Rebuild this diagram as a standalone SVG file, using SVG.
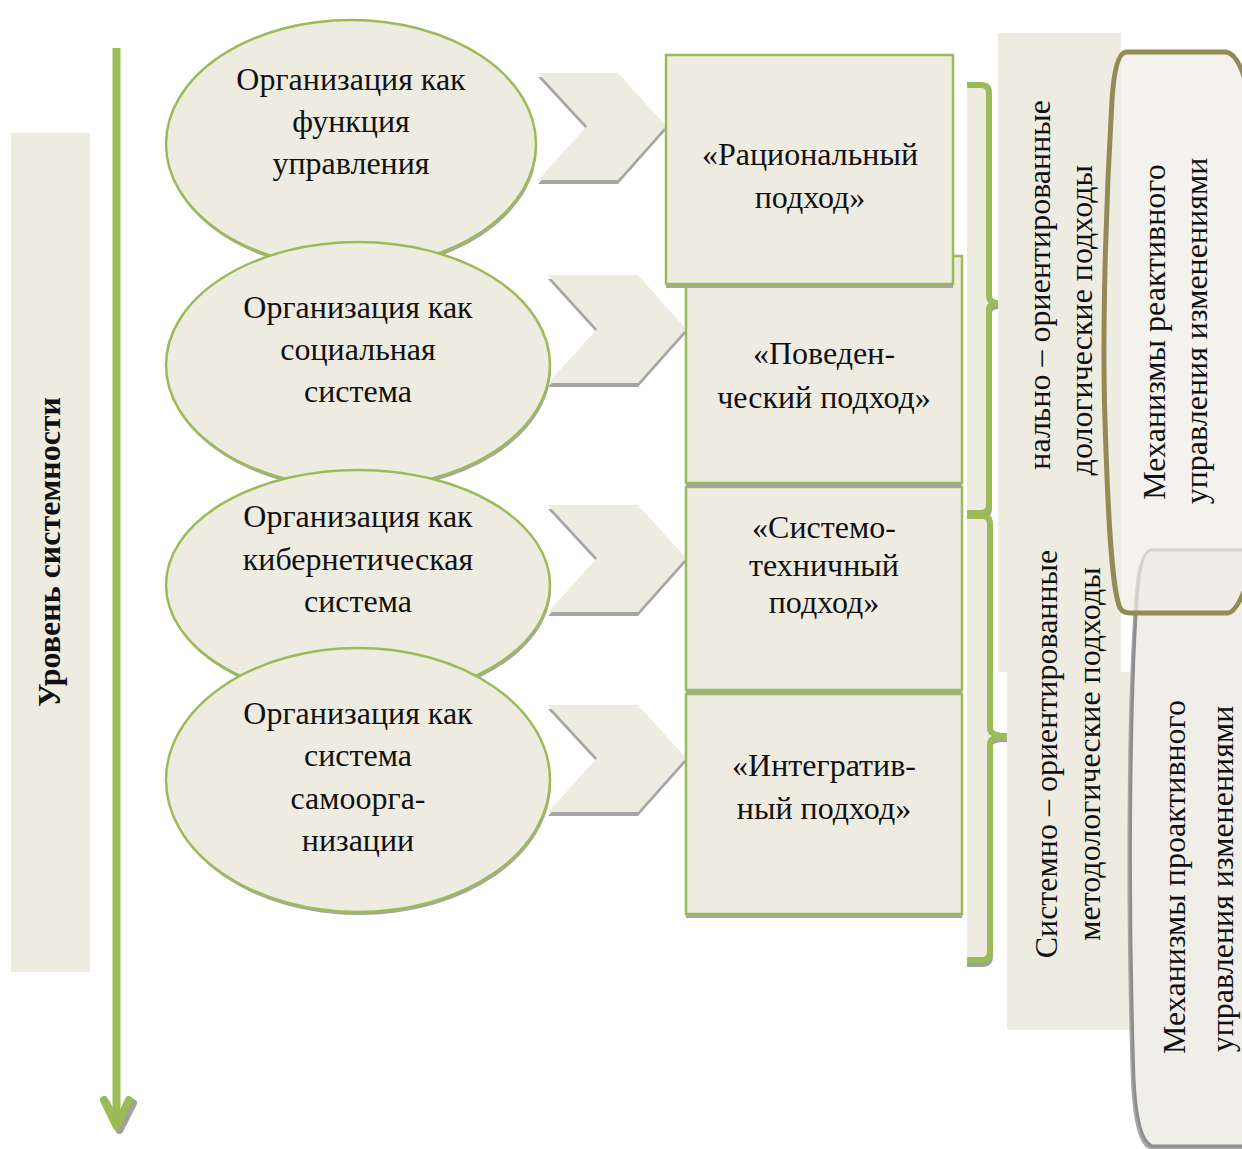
<svg xmlns="http://www.w3.org/2000/svg" width="1242" height="1149" viewBox="0 0 1242 1149">
  <style>
    .t { font-family: "Liberation Serif", "Times New Roman", serif; font-size: 32px; fill: #111; text-anchor: middle; }
    .tb { font-family: "Liberation Serif", "Times New Roman", serif; font-size: 32px; font-weight: bold; fill: #111; text-anchor: middle; }
    .pane { fill: #EEECE1; stroke: #9BBB59; stroke-width: 2.5; }
    .sh { fill: #A5A5A5; }
    .chev { fill: #EEECE1; }
    .brace { fill: none; stroke: #9BBB59; stroke-width: 6; stroke-linejoin: round; }
    .braceSh { fill: none; stroke: #A0A0A0; stroke-width: 6; }
  </style>

  <!-- level-of-systemness strip -->
  <g id="level">
    <rect x="11" y="133" width="79" height="839" fill="#EEECE1"/>
    <text class="tb" transform="translate(60,552) rotate(-90)">Уровень системности</text>
  </g>

  <!-- downward axis arrow -->
  <g id="axis">
    <polyline points="106,1103 119.5,1130 133,1103" fill="none" stroke="#A0A0A0" stroke-width="8" stroke-linecap="round" stroke-linejoin="round"/>
    <line x1="116.5" y1="48" x2="116.5" y2="1124" stroke="#9BBB59" stroke-width="8"/>
    <polyline points="104,1100 116.5,1126 129,1100" fill="none" stroke="#9BBB59" stroke-width="8" stroke-linecap="round" stroke-linejoin="round"/>
  </g>

  <g id="connectors">
    <!-- chevrons from concepts to approaches -->
    <g id="chev1">
      <polygon class="sh" points="538,77 618,77 666,130 618,184 538,184 587,130"/>
      <polygon class="chev" points="538,73 618,73 666,126 618,180 538,180 587,126"/>
    </g>
    <g id="chev2">
      <polygon class="sh" points="548,279 638,279 686,333 638,387 548,387 597,333"/>
      <polygon class="chev" points="548,275 638,275 686,329 638,383 548,383 597,329"/>
    </g>
    <g id="chev3">
      <polygon class="sh" points="548,509 638,509 686,562 638,616 548,616 597,562"/>
      <polygon class="chev" points="548,505 638,505 686,558 638,612 548,612 597,558"/>
    </g>
    <g id="chev4">
      <polygon class="sh" points="548,709 638,709 686,762 638,816 548,816 597,762"/>
      <polygon class="chev" points="548,705 638,705 686,758 638,812 548,812 597,758"/>
    </g>

    <!-- braces grouping approaches -->
    <g id="brace1">
      <path d="M967,85 H981 Q989,85 989,93 V505 Q989,513 981,513 H967 Z" fill="#EEECE1"/>
      <path class="braceSh" d="M967,516 H981 Q989,516 989,508 V313 Q989,306 999,306"/>
      <path class="brace" d="M967,85 H981 Q989,85 989,93 V296 Q989,303 999,303 Q989,303 989,310 V505 Q989,513 981,513 H967"/>
    </g>
    <g id="brace2">
      <path d="M967,516 H982 Q990,516 990,524 V952 Q990,960 982,960 H967 Z" fill="#EEECE1"/>
      <path class="braceSh" d="M967,964 H982 Q990,964 990,956 V746 Q990,739 1007,739"/>
      <path class="brace" d="M967,516 H982 Q990,516 990,524 V728 Q990,736 1007,736 Q990,736 990,744 V952 Q990,960 982,960 H967"/>
    </g>
  </g>

  <!-- organisation concepts -->
  <g id="concept1">
    <ellipse cx="352" cy="147" rx="185" ry="124" fill="#A5A5A5"/>
    <ellipse class="pane" cx="351" cy="144" rx="185" ry="124" stroke-width="2"/>
    <text class="t" x="351" y="90">Организация как</text>
    <text class="t" x="351" y="132">функция</text>
    <text class="t" x="351" y="174">управления</text>
  </g>
  <g id="concept2">
    <ellipse cx="359" cy="368" rx="192" ry="123" fill="#A5A5A5"/>
    <ellipse class="pane" cx="358" cy="365" rx="192" ry="123" stroke-width="2"/>
    <text class="t" x="358" y="318">Организация как</text>
    <text class="t" x="358" y="360">социальная</text>
    <text class="t" x="358" y="402">система</text>
  </g>
  <g id="concept3">
    <ellipse cx="359" cy="588" rx="192" ry="115" fill="#A5A5A5"/>
    <ellipse class="pane" cx="358" cy="585" rx="192" ry="115" stroke-width="2"/>
    <text class="t" x="358" y="527">Организация как</text>
    <text class="t" x="358" y="570">кибернетическая</text>
    <text class="t" x="358" y="612">система</text>
  </g>
  <g id="concept4">
    <ellipse cx="359" cy="783" rx="192" ry="132" fill="#A5A5A5"/>
    <ellipse class="pane" cx="358" cy="780" rx="192" ry="132" stroke-width="2"/>
    <text class="t" x="358" y="724">Организация как</text>
    <text class="t" x="358" y="766">система</text>
    <text class="t" x="358" y="809">самоорга-</text>
    <text class="t" x="358" y="851">низации</text>
  </g>

  <!-- approaches (stacked, upper one on top) -->
  <g id="approach4">
    <rect class="sh" x="686" y="698" width="276" height="220"/>
    <rect class="pane" x="686" y="694" width="276" height="220"/>
    <text class="t" x="824" y="776">«Интегратив-</text>
    <text class="t" x="824" y="819">ный подход»</text>
  </g>
  <g id="approach3">
    <rect class="sh" x="686" y="491" width="276" height="203"/>
    <rect class="pane" x="686" y="487" width="276" height="203"/>
    <text class="t" x="824" y="538">«Системо-</text>
    <text class="t" x="824" y="576">техничный</text>
    <text class="t" x="824" y="613">подход»</text>
  </g>
  <g id="approach2">
    <rect class="sh" x="686" y="260" width="276" height="227"/>
    <rect class="pane" x="686" y="256" width="276" height="227"/>
    <text class="t" x="824" y="364">«Поведен-</text>
    <text class="t" x="824" y="408">ческий подход»</text>
  </g>
  <g id="approach1">
    <rect class="sh" x="666" y="59" width="287" height="229"/>
    <rect class="pane" x="666" y="55" width="287" height="229"/>
    <text class="t" x="810" y="165">«Рациональный</text>
    <text class="t" x="810" y="208">подход»</text>
  </g>

  <!-- methodological groups -->
  <g id="groupFunctional">
    <rect x="998" y="33" width="123" height="639" fill="#EEECE1"/>
    <text class="t" style="text-anchor:end" transform="translate(1050,100) rotate(-90)">нально – ориентированные</text>
    <text class="t" style="text-anchor:end" transform="translate(1092,165) rotate(-90)">дологические подходы</text>
  </g>
  <g id="groupSystemic">
    <rect x="1007" y="672" width="123" height="358" fill="#EEECE1"/>
    <text class="t" transform="translate(1057,754) rotate(-90)">Системно – ориентированные</text>
    <text class="t" transform="translate(1100,754) rotate(-90)">методологические подходы</text>
  </g>

  <!-- change-management mechanisms -->
  <g id="proactive">
    <path d="M1250,550 H1151 Q1140,551 1137,600 C1130,700 1128,900 1134,1080 Q1137,1140 1152,1146 H1250" fill="#A8A8A8" transform="translate(-3,3)"/>
    <path d="M1250,550 H1151 Q1140,551 1137,600 C1130,700 1128,900 1134,1080 Q1137,1140 1152,1146 H1250" fill="#EFEEE8" stroke="#8E8E8E" stroke-width="3"/>
    <text class="t" transform="translate(1185,877) rotate(-90)">Механизмы проактивного</text>
    <text class="t" transform="translate(1233,879) rotate(-90)">управления изменениями</text>
  </g>
  <g id="reactive">
    <path d="M1252,110 Q1242,54 1226,52 H1126 Q1115,53 1112,100 C1106,200 1102,330 1105,420 C1108,520 1112,590 1120,608 Q1123,613 1130,613 H1228 Q1238,612 1252,570" fill="#EEEDE5" fill-opacity="0.72" stroke="#948A54" stroke-width="5"/>
    <text class="t" transform="translate(1165,332) rotate(-90)">Механизмы реактивного</text>
    <text class="t" transform="translate(1207,331) rotate(-90)">управления изменениями</text>
  </g>
</svg>
